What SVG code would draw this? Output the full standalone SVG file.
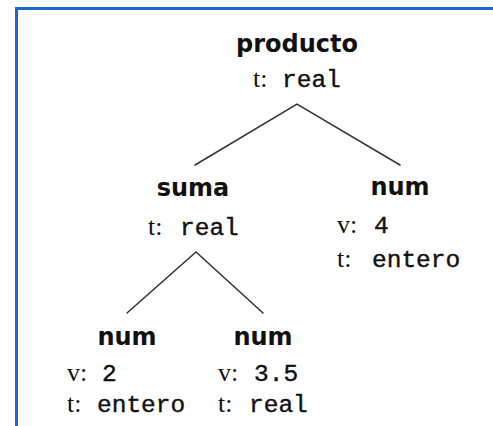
<svg xmlns="http://www.w3.org/2000/svg" width="493" height="426" viewBox="0 0 493 426">
  <style>
    .label { font-family: "DejaVu Sans", "Liberation Sans", sans-serif; font-weight: bold; font-size: 24px; fill: #111; text-anchor: middle; }
    .key { font-family: "Liberation Serif", "DejaVu Serif", serif; font-size: 26px; fill: #111; }
    .val { font-family: "Liberation Mono", "DejaVu Sans Mono", monospace; font-size: 24.5px; fill: #111; stroke: #111; stroke-width: 0.4; }
    .edge { stroke: #333; stroke-width: 1.5; fill: none; stroke-linecap: round; }
    .frame { stroke: #1a6ad6; stroke-width: 3; fill: none; }
  </style>
  <rect width="493" height="426" fill="#fff"/>
  <!-- panel frame (top and left edges) -->
  <path class="frame" d="M16.5,426 V8.5 H493"/>

  <g id="connectors">
    <path class="edge" d="M195,165 L297,104 L400,165"/>
    <path class="edge" d="M127,313 L196,252 L263,313"/>
  </g>

  <g id="producto">
    <text class="label" x="297" y="52">producto</text>
    <text class="key" x="253" y="87">t:</text>
    <text class="val" x="282" y="87">real</text>
  </g>

  <g id="suma">
    <text class="label" x="193" y="196">suma</text>
    <text class="key" x="148" y="235">t:</text>
    <text class="val" x="180" y="235">real</text>
  </g>

  <g id="num4">
    <text class="label" x="400" y="195">num</text>
    <text class="key" x="337" y="233">v:</text>
    <text class="val" x="374" y="233">4</text>
    <text class="key" x="337" y="267">t:</text>
    <text class="val" x="372" y="267">entero</text>
  </g>

  <g id="num2">
    <text class="label" x="127" y="345">num</text>
    <text class="key" x="67" y="381">v:</text>
    <text class="val" x="102" y="381">2</text>
    <text class="key" x="67" y="412">t:</text>
    <text class="val" x="97" y="412">entero</text>
  </g>

  <g id="num35">
    <text class="label" x="263" y="345">num</text>
    <text class="key" x="218" y="381">v:</text>
    <text class="val" x="254" y="381">3.5</text>
    <text class="key" x="218" y="412">t:</text>
    <text class="val" x="249" y="412">real</text>
  </g>
</svg>
